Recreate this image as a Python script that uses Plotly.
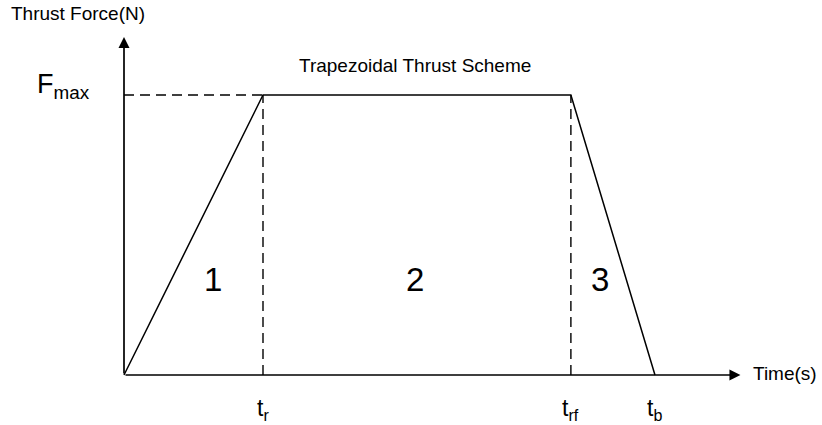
import plotly.graph_objects as go

# ---- data (normalised units) ----
t_r = 2.0        # end of ramp-up
t_rf = 6.43      # start of ramp-down
t_b = 7.64       # burn-out time
F_max = 1.0      # maximum thrust (normalised)
t_axis_end = 8.87
F_axis_end = 1.207

profile_t = [0, t_r, t_rf, t_b]
profile_F = [0, F_max, F_max, 0]

phase_labels = ["1", "2", "3"]
phase_t = [1.28, 4.18, 6.85]
phase_F = [0.34, 0.34, 0.34]

tick_labels = ["t<sub>r</sub>", "t<sub>rf</sub>", "t<sub>b</sub>"]
tick_t = [t_r, t_rf, t_b]

W, H = 822, 425
FONT = "Arial, Liberation Sans, sans-serif"

def px(xp):
    return xp / W

def py(yp):
    return 1 - yp / H

fig = go.Figure()

# dashed guide lines
fig.add_trace(go.Scatter(
    x=[0, t_r, None, t_r, t_r, None, t_rf, t_rf],
    y=[F_max, F_max, None, 0, F_max, None, 0, F_max],
    mode="lines", line=dict(color="black", width=1.4, dash="10px,6px"),
    hoverinfo="skip", showlegend=False))

# trapezoidal profile
fig.add_trace(go.Scatter(
    x=profile_t, y=profile_F, mode="lines",
    line=dict(color="black", width=1.5),
    hoverinfo="skip", showlegend=False))

annotations = []
# axes with arrows
annotations.append(dict(x=t_axis_end, y=0, ax=0, ay=0, xref="x", yref="y",
                        axref="x", ayref="y", showarrow=True, arrowhead=2,
                        arrowsize=1.3, arrowwidth=1.7, arrowcolor="black", text=""))
annotations.append(dict(x=0, y=F_axis_end, ax=0, ay=0, xref="x", yref="y",
                        axref="x", ayref="y", showarrow=True, arrowhead=2,
                        arrowsize=1.3, arrowwidth=1.7, arrowcolor="black", text=""))

# phase numbers
for lab, tx, fy in zip(phase_labels, phase_t, phase_F):
    annotations.append(dict(x=tx, y=fy, xref="x", yref="y", text=lab,
                            showarrow=False, font=dict(family=FONT, size=33, color="black"),
                            xanchor="center", yanchor="middle"))

# tick labels
for lab, tx in zip(tick_labels, tick_t):
    annotations.append(dict(x=tx, y=py(409), xref="x", yref="paper", text=lab,
                            showarrow=False, font=dict(family=FONT, size=23, color="black"),
                            xanchor="center", yanchor="middle"))

annotations.append(dict(x=px(9), y=py(13), xref="paper", yref="paper",
                        text="Thrust Force(N)", showarrow=False,
                        font=dict(family=FONT, size=19, color="black"),
                        xanchor="left", yanchor="middle"))
annotations.append(dict(x=px(751), y=py(373), xref="paper", yref="paper",
                        text="Time(s)", showarrow=False,
                        font=dict(family=FONT, size=19, color="black"),
                        xanchor="left", yanchor="middle"))
annotations.append(dict(x=px(415), y=py(65), xref="paper", yref="paper",
                        text="Trapezoidal Thrust Scheme", showarrow=False,
                        font=dict(family=FONT, size=19, color="black"),
                        xanchor="center", yanchor="middle"))
annotations.append(dict(x=px(35), y=py(86), xref="paper", yref="paper",
                        text="F<sub>max</sub>", showarrow=False,
                        font=dict(family=FONT, size=27, color="black"),
                        xanchor="left", yanchor="middle"))

fig.update_layout(
    width=W, height=H, autosize=False,
    margin=dict(l=0, r=0, t=0, b=0),
    paper_bgcolor="white", plot_bgcolor="white",
    xaxis=dict(range=[-124 / 69.5, (W - 124) / 69.5], visible=False, fixedrange=True),
    yaxis=dict(range=[-50 / 280, 375 / 280], visible=False, fixedrange=True),
    annotations=annotations,
    showlegend=False,
)

fig.write_html("out.html", config={"displayModeBar": False},
               post_script="document.body.style.margin='0';document.body.style.overflow='hidden';")
